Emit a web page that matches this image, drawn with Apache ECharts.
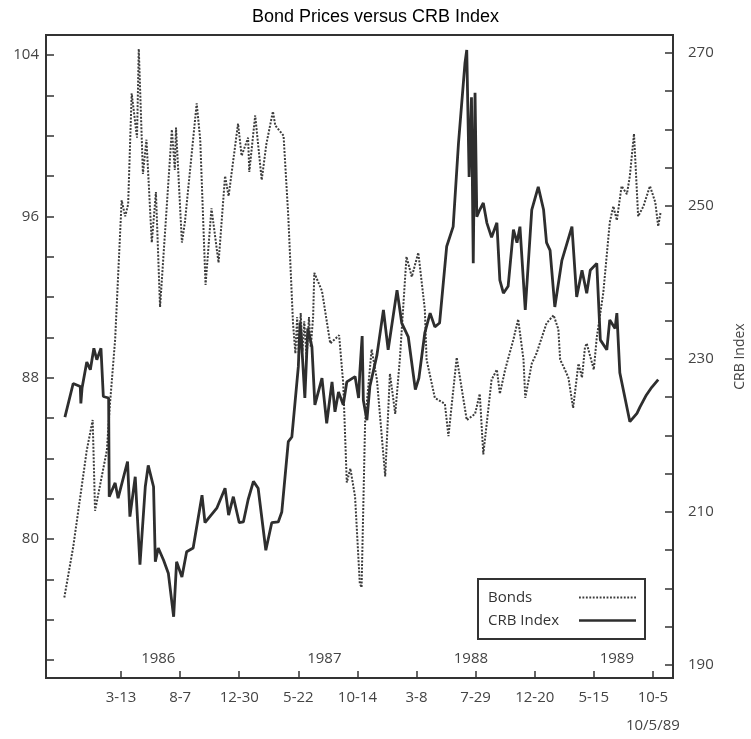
<!DOCTYPE html>
<html>
<head>
<meta charset="utf-8">
<script src="https://cdn.jsdelivr.net/npm/echarts@6/dist/echarts.min.js"></script>
<style>
html,body{margin:0;padding:0;background:#fff;}
#chart{width:751px;height:739px;}
</style>
</head>
<body>
<div id="chart"></div>
<script>
// x values are trading-day indices (tick every 100 trading days)
const xTickDays = [100, 200, 300, 400, 500, 600, 700, 800, 900, 1000];
const xTickLabels = ['3-13', '8-7', '12-30', '5-22', '10-14', '3-8', '7-29', '12-20', '5-15', '10-5'];
const yearDays = [163, 444, 692, 939];
const yearLabels = ['1986', '1987', '1988', '1989'];
const leftTicks = [74, 76, 78, 80, 82, 84, 86, 88, 90, 92, 94, 96, 98, 100, 102, 104];
const leftLabels = [80, 88, 96, 104];
const rightTicks = [190, 195, 200, 205, 210, 215, 220, 225, 230, 235, 240, 245, 250, 255, 260, 265, 270];
const rightLabels = [190, 210, 230, 250, 270];

const bondDays = [4, 19, 42, 52, 56, 64, 76, 81, 90, 101, 107, 112, 118, 127, 130, 137, 143, 152, 159, 166,
  186, 191, 193, 203, 208, 228, 234, 243, 253, 265, 276, 282, 298, 304, 315, 317, 327, 338, 346, 357,
  361, 375, 383, 391, 395, 398, 401, 404, 407, 410, 414, 418, 421, 425, 427, 440, 454, 469, 476, 482,
  488, 496, 504, 507, 513, 524, 533, 547, 555, 564, 572, 583, 592, 603, 614, 617, 631, 648, 654, 668,
  685, 699, 707, 713, 727, 736, 741, 750, 764, 772, 781, 784, 795, 803, 820, 832, 840, 843, 851, 857,
  865, 874, 880, 885, 888, 900, 905, 916, 927, 933, 939, 947, 956, 961, 968, 975, 984, 995, 1004, 1009, 1013];
const bondValues = [77.1, 79.6, 84.4, 85.9, 81.4, 82.6, 84.4, 86.6, 89.9, 96.8, 96.0, 96.6, 102.1, 99.9, 104.3, 98.1, 99.8, 94.7, 97.2, 91.5,
  100.3, 98.3, 100.4, 94.7, 95.7, 101.6, 99.8, 92.6, 96.4, 93.7, 98.0, 97.0, 100.6, 99.0, 99.9, 98.2, 101.0, 97.8, 99.6, 101.2,
  100.5, 100.0, 96.0, 90.7, 89.2, 91.0, 89.0, 91.2, 89.3, 90.8, 89.0, 91.0, 89.5, 91.0, 93.2, 92.3, 89.7, 90.1, 87.7, 82.8,
  83.5, 82.1, 77.8, 77.6, 85.8, 89.4, 87.9, 83.1, 88.2, 86.2, 89.0, 94.0, 93.0, 94.2, 91.4, 88.9, 87.0, 86.7, 85.1, 89.0,
  85.9, 86.2, 87.2, 84.2, 87.9, 88.4, 87.2, 88.4, 89.9, 90.9, 88.9, 87.0, 88.7, 89.2, 90.7, 91.1, 90.4, 88.9, 88.4, 88.0,
  86.5, 88.7, 88.0, 89.5, 89.7, 88.4, 90.0, 92.2, 95.7, 96.5, 95.8, 97.5, 97.1, 98.0, 100.1, 96.0, 96.5, 97.5, 96.7, 95.5, 96.2];

const crbDays = [5, 19, 31, 32, 34, 42, 48, 54, 59, 66, 70, 79, 80, 90, 95, 111, 115, 124, 132, 141,
  146, 155, 158, 163, 172, 180, 189, 194, 203, 211, 222, 237, 242, 262, 276, 282, 290, 300, 307, 315,
  324, 332, 345, 355, 366, 372, 383, 389, 400, 403, 406, 411, 416, 423, 428, 440, 448, 457, 462, 468,
  476, 482, 496, 502, 504, 508, 510, 516, 521, 533, 544, 552, 567, 575, 586, 598, 604, 614, 623, 631,
  639, 651, 662, 671, 682, 685, 689, 693, 696, 699, 702, 707, 713, 719, 727, 736, 741, 747, 755, 764,
  770, 775, 784, 795, 806, 815, 820, 826, 834, 846, 863, 871, 880, 888, 894, 905, 911, 922, 927, 936,
  939, 944, 961, 973, 978, 989, 998, 1009];
const crbValues = [222.4, 226.8, 226.4, 224.2, 226.2, 229.6, 228.6, 231.4, 229.9, 231.4, 225.1, 224.9, 212.0, 213.8, 211.8, 216.6, 209.4, 214.6, 203.1, 213.3,
  216.1, 213.3, 203.5, 205.3, 203.7, 202.0, 196.3, 203.5, 201.5, 204.8, 205.3, 212.2, 208.6, 210.5, 213.1, 209.6, 212.0, 208.6, 208.7, 211.6,
  214.0, 213.1, 205.0, 208.6, 208.7, 210.0, 219.2, 219.8, 229.0, 234.8, 231.5, 224.9, 234.0, 231.6, 224.0, 227.5, 221.6, 227.0, 223.1, 225.7,
  224.0, 227.0, 227.7, 224.9, 228.2, 233.0, 224.6, 222.0, 226.4, 230.5, 236.4, 231.2, 239.0, 234.7, 232.9, 226.0, 227.5, 233.4, 236.0, 234.2,
  234.7, 244.7, 247.3, 258.2, 268.7, 270.4, 253.8, 264.2, 242.5, 264.8, 248.6, 249.5, 250.4, 247.8, 245.9, 247.8, 240.3, 238.6, 239.5, 246.9,
  245.2, 247.3, 236.4, 249.5, 252.5, 249.5, 245.2, 244.2, 236.8, 242.9, 247.3, 238.1, 241.6, 238.6, 241.6, 242.5, 232.5, 231.2, 235.1, 234.0,
  236.0, 228.2, 221.8, 222.9, 223.7, 225.3, 226.3, 227.3];

const zip = (a, b) => a.map((d, i) => [d, b[i]]);
const FONT = 'Open Sans';
const LBL = '#444';
const AX = '#333';

// legend sample icons (a dotted and a solid stroke)
let dotPath = 'path://';
for (let x = 0; x < 56; x += 3.4) dotPath += 'M' + x.toFixed(1) + ',0h1.8v1.8h-1.8z';
const solidPath = 'path://M0,0h57v2.6h-57z';

const chart = echarts.init(document.getElementById('chart'), null, {renderer: 'canvas'});
chart.setOption({
  animation: false,
  backgroundColor: '#fff',
  title: {
    text: 'Bond Prices versus CRB Index',
    left: 'center', top: 3,
    textStyle: {fontFamily: 'Liberation Sans', fontSize: 18, fontWeight: 'normal', color: '#000'}
  },
  grid: {
    left: 46, right: 78, top: 35, bottom: 61,
    outerBoundsMode: 'none',
    containLabel: false,
    show: true, borderColor: AX, borderWidth: 2, backgroundColor: 'transparent'
  },
  legend: {
    data: [{name: 'Bonds', icon: dotPath}, {name: 'CRB Index', icon: solidPath}],
    orient: 'vertical',
    left: 478, top: 579,
    align: 'right',
    padding: [11, 9, 11, 10],
    itemGap: 8,
    itemWidth: 57, itemHeight: 14,
    symbolKeepAspect: true,
    borderColor: AX, borderWidth: 2, borderRadius: 0,
    backgroundColor: '#fff',
    formatter: name => '{a|' + name + '}',
    textStyle: {
      fontFamily: FONT, fontSize: 15, color: '#333',
      rich: {a: {width: 86, align: 'left', fontFamily: FONT, fontSize: 15, color: '#333'}}
    }
  },
  xAxis: [{
    type: 'value',
    min: -27, max: 1034,
    axisLine: {show: true, onZero: false, lineStyle: {color: AX, width: 2}},
    splitLine: {show: false},
    axisTick: {show: true, inside: true, length: 7, customValues: xTickDays, lineStyle: {color: AX, width: 1.5}},
    axisLabel: {
      customValues: xTickDays, margin: 6,
      fontFamily: FONT, fontSize: 15, color: LBL, lineHeight: 28,
      formatter: v => {
        const i = xTickDays.indexOf(v);
        if (i < 0) return '';
        return i === xTickDays.length - 1 ? xTickLabels[i] + '\n10/5/89' : xTickLabels[i];
      }
    }
  }, {
    type: 'value',
    position: 'bottom',
    min: -27, max: 1034,
    axisLine: {show: false, onZero: false},
    axisTick: {show: false},
    splitLine: {show: false},
    axisLabel: {
      inside: true, customValues: yearDays, margin: 12,
      fontFamily: FONT, fontSize: 15, color: LBL,
      formatter: v => {
        const i = yearDays.indexOf(v);
        return i < 0 ? '' : yearLabels[i];
      }
    }
  }],
  yAxis: [{
    type: 'value',
    position: 'left',
    min: 73.11, max: 104.99,
    axisLine: {show: true, onZero: false, lineStyle: {color: AX, width: 2}},
    splitLine: {show: false},
    axisTick: {show: true, inside: true, length: 8, customValues: leftTicks, lineStyle: {color: AX, width: 1.5}},
    axisLabel: {customValues: leftLabels, margin: 7, fontFamily: FONT, fontSize: 15, color: LBL}
  }, {
    type: 'value',
    position: 'right',
    min: 188.3, max: 272.35,
    name: 'CRB Index',
    nameLocation: 'middle',
    nameRotate: 90,
    nameGap: 60,
    nameTextStyle: {fontFamily: FONT, fontSize: 14, color: LBL},
    axisLine: {show: true, onZero: false, lineStyle: {color: AX, width: 2}},
    splitLine: {show: false},
    axisTick: {show: true, inside: true, length: 8, customValues: rightTicks, lineStyle: {color: AX, width: 1.5}},
    axisLabel: {customValues: rightLabels, margin: 15, fontFamily: FONT, fontSize: 15, color: LBL}
  }],
  series: [{
    name: 'Bonds',
    type: 'line',
    xAxisIndex: 0, yAxisIndex: 0,
    data: zip(bondDays, bondValues),
    symbol: 'none', showSymbol: false,
    lineStyle: {color: '#3c3c3c', width: 2, type: [2, 1.5]},
    itemStyle: {color: '#3c3c3c'},
    z: 2
  }, {
    name: 'CRB Index',
    type: 'line',
    xAxisIndex: 0, yAxisIndex: 1,
    data: zip(crbDays, crbValues),
    symbol: 'none', showSymbol: false,
    lineStyle: {color: '#2e2e2e', width: 2.8},
    itemStyle: {color: '#2e2e2e'},
    z: 3
  }]
});
</script>
</body>
</html>
